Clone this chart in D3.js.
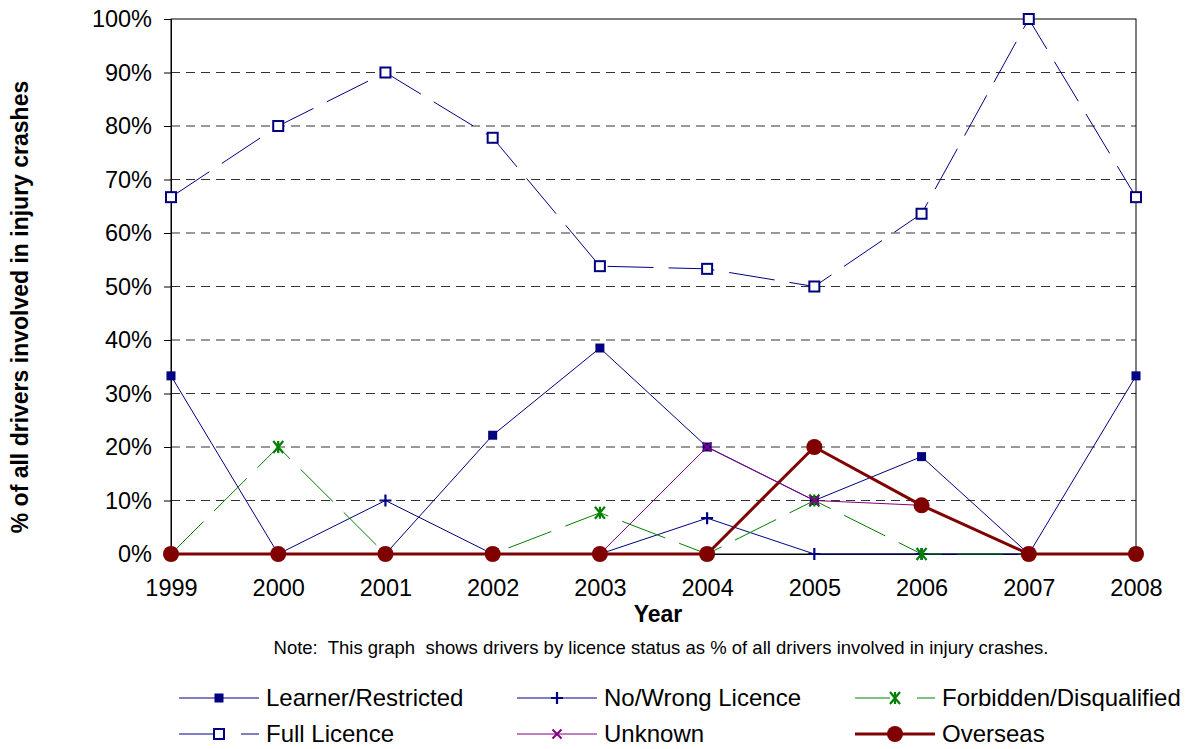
<!DOCTYPE html>
<html><head><meta charset="utf-8">
<script src="https://cdn.jsdelivr.net/npm/d3@7"></script>
<style>body{margin:0;background:#fff;} svg{display:block;font-family:"Liberation Sans",Arial,sans-serif;}</style>
</head><body>
<svg id="chart" width="1186" height="749"></svg>
<script>
const years = ["1999","2000","2001","2002","2003","2004","2005","2006","2007","2008"];
const learnerRestricted = [33.3, 0, 0, 22.2, 38.5, 20, 10, 18.2, 0, 33.3];
const noWrongLicence = [0, 0, 10, 0, 0, 6.7, 0, 0, 0, 0];
const forbiddenDisqualified = [0, 20, 0, 0, 7.7, 0, 10, 0, 0, 0];
const fullLicence = [66.7, 80, 90, 77.8, 53.8, 53.3, 50, 63.6, 100, 66.7];
const unknown = [0, 0, 0, 0, 0, 20, 10, 9.1, 0, 0];
const overseas = [0, 0, 0, 0, 0, 0, 20, 9.1, 0, 0];
const yTicks = [0, 10, 20, 30, 40, 50, 60, 70, 80, 90, 100];

const series = [
  {name:"Learner/Restricted", values:learnerRestricted, color:"#000080", width:1, dash:null, marker:"fsquare"},
  {name:"No/Wrong Licence", values:noWrongLicence, color:"#000080", width:1, dash:null, marker:"plus"},
  {name:"Forbidden/Disqualified", values:forbiddenDisqualified, color:"#008000", width:1, dash:"46,15", marker:"star"},
  {name:"Full Licence", values:fullLicence, color:"#000080", width:1, dash:"46,15", marker:"hsquare"},
  {name:"Unknown", values:unknown, color:"#800080", width:1, dash:null, marker:"x"},
  {name:"Overseas", values:overseas, color:"#800000", width:3, dash:null, marker:"circle"}
];

const svg = d3.select("#chart");
const L = 171, R = 1136, T = 19, B = 554;
const x = d3.scalePoint().domain(years).range([L, R]);
const y = d3.scaleLinear().domain([0, 100]).range([B, T]);

// gridlines
svg.append("g").selectAll("line").data(yTicks.filter(d => d > 0 && d < 100)).join("line")
  .attr("x1", L).attr("x2", R).attr("y1", d => y(d)).attr("y2", d => y(d))
  .attr("stroke", "#333").attr("stroke-width", 1).attr("stroke-dasharray", "9,6");

// plot border
svg.append("rect").attr("x", L).attr("y", T).attr("width", R - L).attr("height", B - T)
  .attr("fill", "none").attr("stroke", "#000").attr("stroke-width", 1);

// y axis
const yAxis = d3.axisLeft(y).tickValues(yTicks).tickFormat(d => d + "%").tickSize(7).tickPadding(12);
const ya = svg.append("g").attr("transform", `translate(${L},0)`).call(yAxis);
ya.select(".domain").attr("stroke", "#000");
ya.selectAll(".tick line").attr("stroke", "#000");
ya.selectAll("text").attr("font-size", 23.5).attr("fill", "#000").attr("font-family", "Liberation Sans, Arial, sans-serif");

// x axis
const xAxis = d3.axisBottom(x).tickSize(0).tickPadding(25);
const xa = svg.append("g").attr("transform", `translate(0,${B})`).call(xAxis);
xa.select(".domain").attr("stroke", "#000");
xa.selectAll("text").attr("font-size", 23.5).attr("fill", "#000").attr("font-family", "Liberation Sans, Arial, sans-serif");

// titles
svg.append("text").attr("x", 658).attr("y", 622).attr("text-anchor", "middle")
  .attr("font-size", 23).attr("font-weight", "bold").text("Year");
svg.append("text").attr("transform", "translate(28,307) rotate(-90)").attr("text-anchor", "middle")
  .attr("font-size", 23).attr("font-weight", "bold").text("% of all drivers involved in injury crashes");
svg.append("text").attr("x", 661).attr("y", 654).attr("text-anchor", "middle")
  .attr("font-size", 18.5).attr("xml:space", "preserve").style("white-space", "pre")
  .text("Note:  This graph  shows drivers by licence status as % of all drivers involved in injury crashes.");

function drawMarker(g, type, color) {
  if (type === "fsquare") {
    g.append("rect").attr("x", -4.5).attr("y", -4.5).attr("width", 9).attr("height", 9).attr("fill", color);
  } else if (type === "hsquare") {
    g.append("rect").attr("x", -5).attr("y", -5).attr("width", 10).attr("height", 10)
      .attr("fill", "#fff").attr("stroke", color).attr("stroke-width", 2);
  } else if (type === "plus") {
    g.append("path").attr("d", "M-6,0H6M0,-6V6").attr("stroke", color).attr("stroke-width", 2.2).attr("fill", "none");
  } else if (type === "x") {
    g.append("path").attr("d", "M-4.5,-4.5L4.5,4.5M-4.5,4.5L4.5,-4.5").attr("stroke", color).attr("stroke-width", 2).attr("fill", "none");
  } else if (type === "star") {
    g.append("path").attr("d", "M-5,-6L5,6M-5,6L5,-6M0,-6V6").attr("stroke", color).attr("stroke-width", 2.2).attr("fill", "none");
  } else if (type === "circle") {
    g.append("circle").attr("r", 8).attr("fill", color);
  }
}

const line = d3.line().x((d, i) => x(years[i])).y(d => y(d));
series.forEach(s => {
  const g = svg.append("g");
  g.append("path").attr("d", line(s.values)).attr("fill", "none")
    .attr("stroke", s.color).attr("stroke-width", s.width)
    .attr("stroke-dasharray", s.dash).attr("stroke-linejoin", "round");
  s.values.forEach((v, i) => {
    const m = g.append("g").attr("transform", `translate(${x(years[i])},${y(v)})`);
    drawMarker(m, s.marker, s.color);
  });
});

// legend
const legendPos = [
  {lx:179, ly:698}, {lx:517, ly:698}, {lx:855, ly:698},
  {lx:179, ly:734}, {lx:517, ly:734}, {lx:855, ly:734}
];
series.forEach((s, k) => {
  const p = legendPos[k];
  const g = svg.append("g").attr("transform", `translate(${p.lx},${p.ly})`);
  g.append("line").attr("x1", 0).attr("x2", 80).attr("y1", 0).attr("y2", 0)
    .attr("stroke", s.color).attr("stroke-width", s.width)
    .attr("stroke-dasharray", s.dash ? "35,27,18" : null);
  const m = g.append("g").attr("transform", "translate(40,0)");
  drawMarker(m, s.marker, s.color);
  g.append("text").attr("x", 87).attr("y", 0).attr("dy", "0.35em")
    .attr("font-size", 24).attr("fill", "#000").text(s.name);
});
</script>
</body></html>
